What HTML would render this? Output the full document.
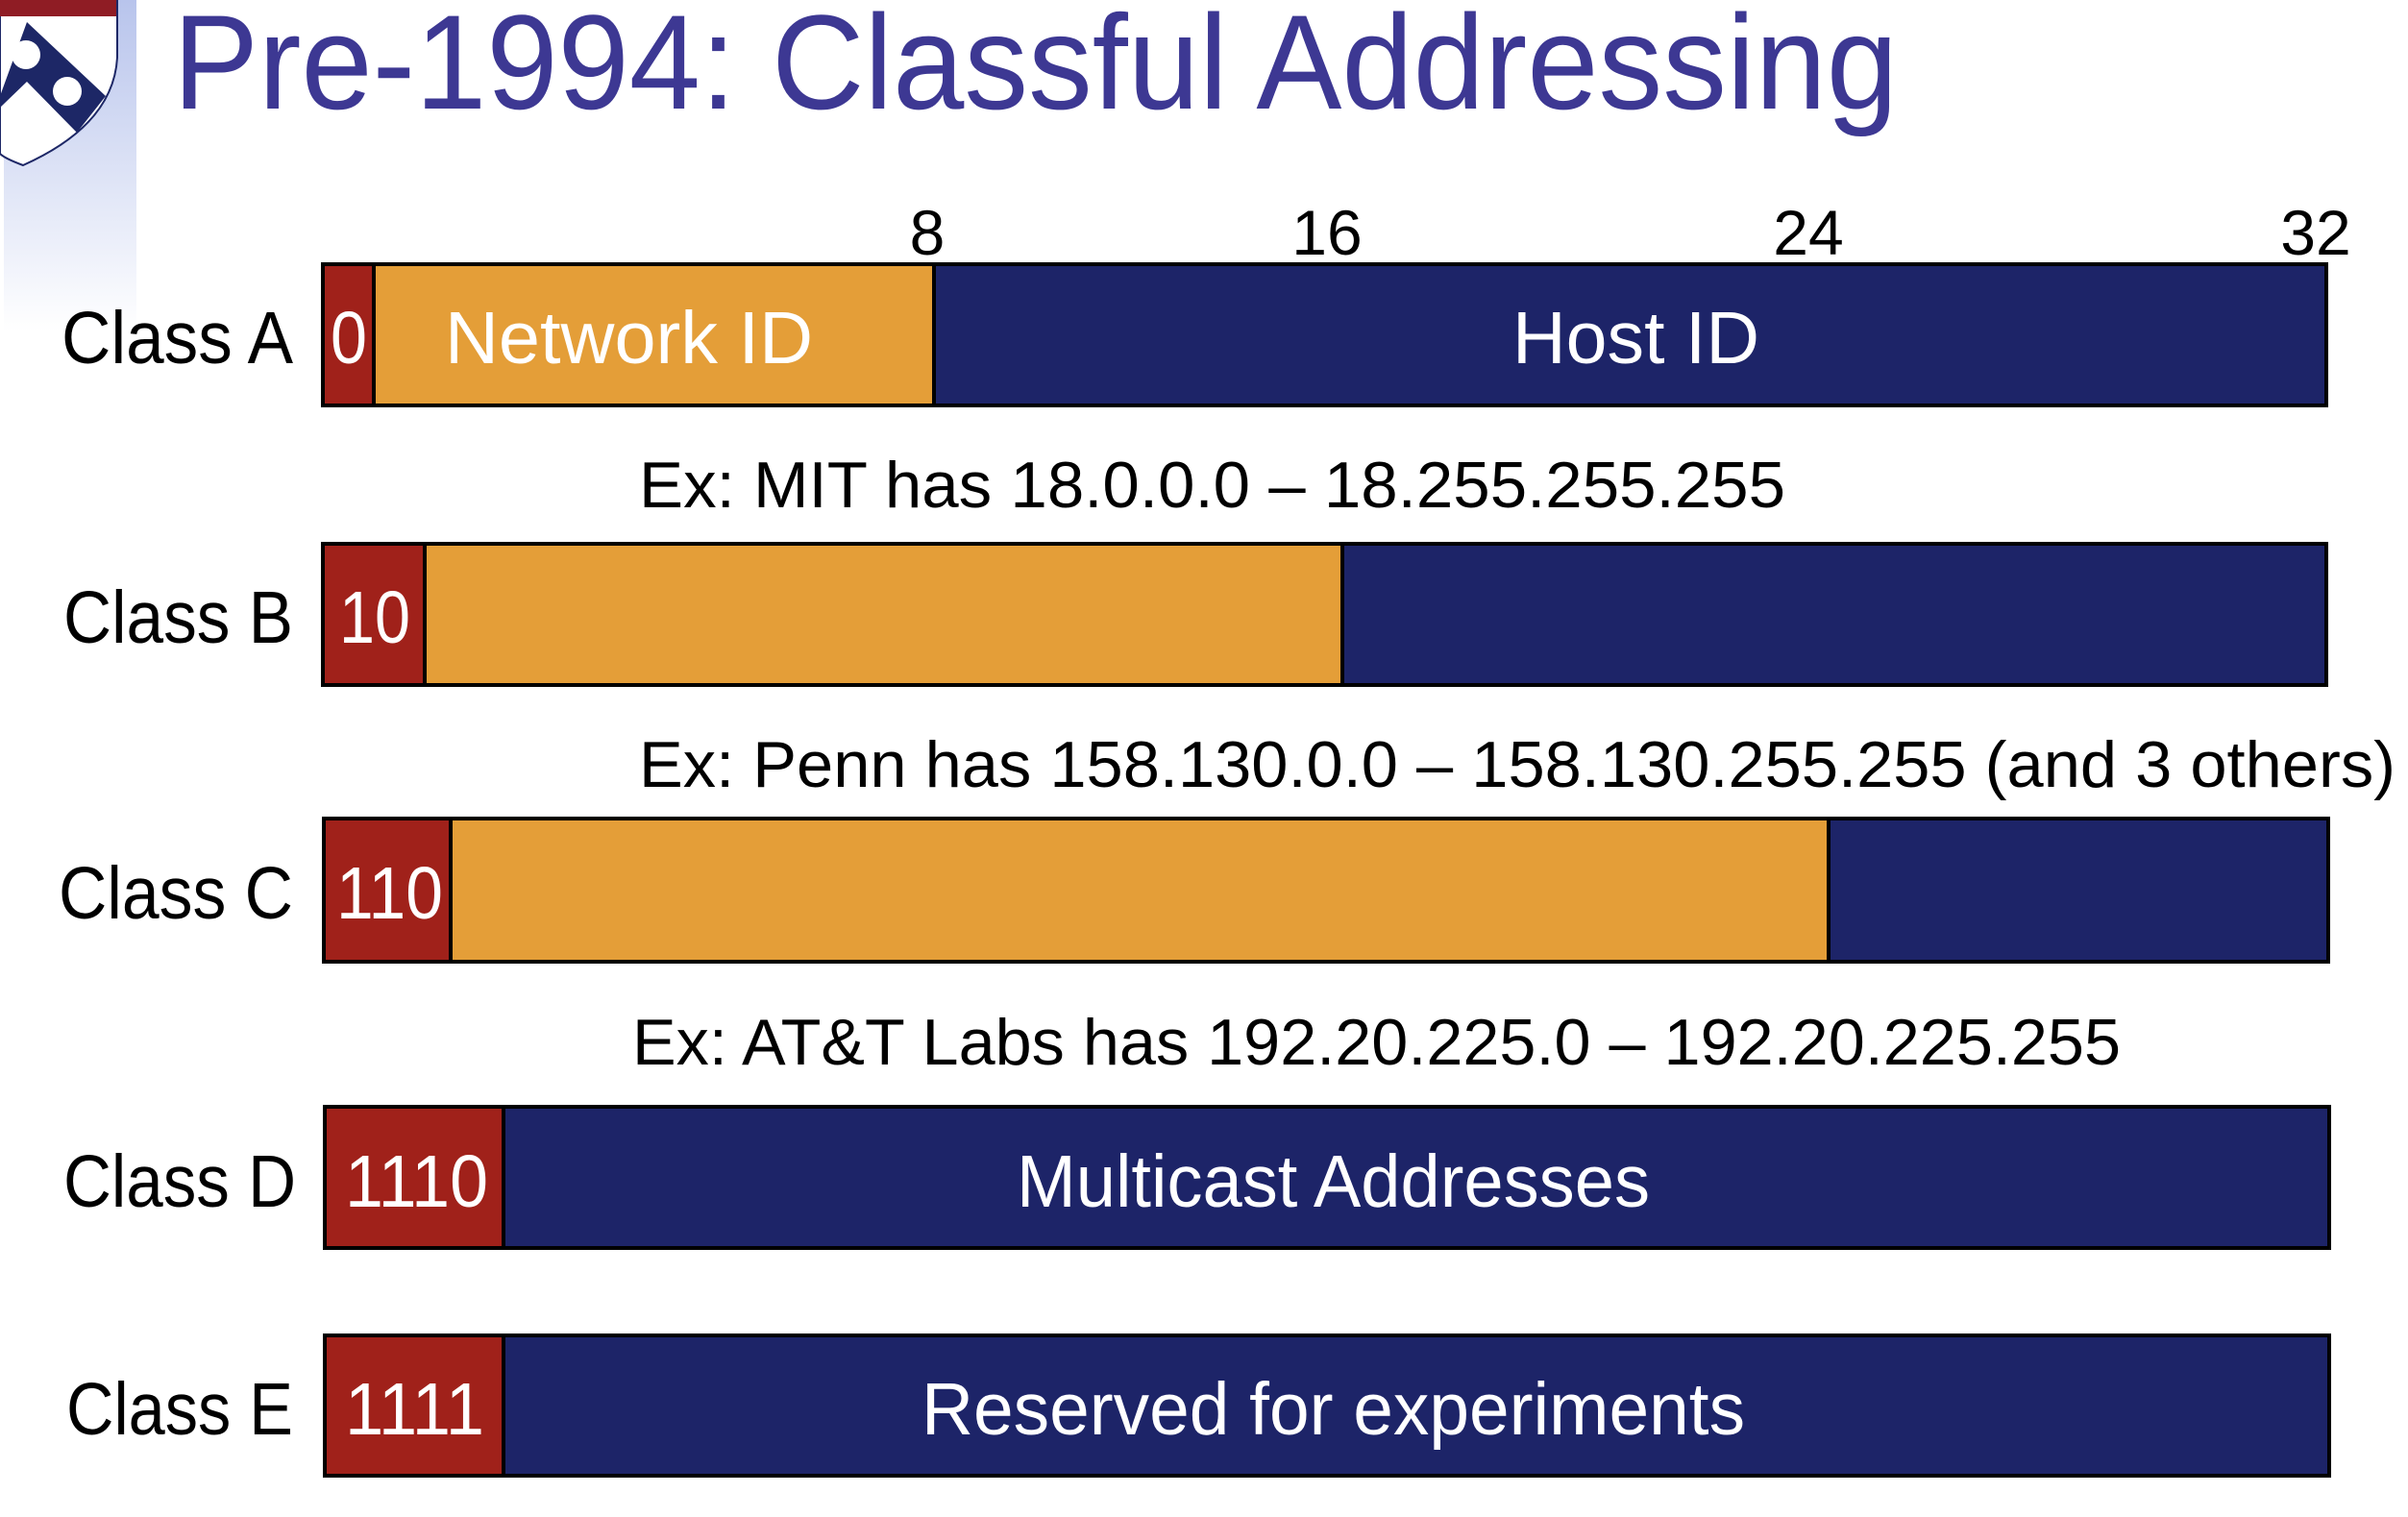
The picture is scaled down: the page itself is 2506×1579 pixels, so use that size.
<!DOCTYPE html>
<html><head><meta charset="utf-8"><style>
html,body{margin:0;padding:0;background:#fff;}
svg{display:block;}
text{font-family:"Liberation Sans",sans-serif;}
</style></head><body>
<svg width="2506" height="1579" viewBox="0 0 2506 1579" xmlns="http://www.w3.org/2000/svg">
<defs>
<linearGradient id="g" x1="0" y1="0" x2="0" y2="1">
<stop offset="0" stop-color="#b8c4ec"/><stop offset="1" stop-color="#ffffff"/>
</linearGradient>
</defs>
<rect x="4" y="0" width="138" height="345" fill="url(#g)"/>
<!-- shield -->
<path d="M0 0 H122 V60 Q118 130 24 172 Q5 165 0 160 Z" fill="#fff" stroke="#1d2766" stroke-width="2"/>
<rect x="0" y="0" width="121" height="17" fill="#8f1c24"/>
<path d="M0 100 L28 23 L110 100 L80 138 L28 85 L0 112 Z" fill="#1d2766"/>
<circle cx="27" cy="57" r="15" fill="#fff"/>
<circle cx="70" cy="95" r="15" fill="#fff"/>
<text x="180" y="113" font-size="140" fill="#3d3893" textLength="1795" lengthAdjust="spacingAndGlyphs">Pre-1994: Classful Addressing</text>

<g font-size="66" fill="#000" text-anchor="middle">
<text x="965" y="265">8</text>
<text x="1381" y="265">16</text>
<text x="1882" y="265">24</text>
<text x="2410" y="265">32</text>
</g>

<g stroke="#000" stroke-width="4">
<rect x="336" y="275" width="53" height="147" fill="#a0211a"/>
<rect x="389" y="275" width="583" height="147" fill="#e49e38"/>
<rect x="972" y="275" width="1460" height="147" fill="#1d2468" transform="translate(0,0)" style="width:1449px"/>
<rect x="336" y="566" width="106" height="147" fill="#a0211a"/>
<rect x="442" y="566" width="955" height="147" fill="#e49e38"/>
<rect x="1397" y="566" width="1024" height="147" fill="#1d2468"/>
<rect x="337" y="852" width="132" height="149" fill="#a0211a"/>
<rect x="469" y="852" width="1434" height="149" fill="#e49e38"/>
<rect x="1903" y="852" width="520" height="149" fill="#1d2468"/>
<rect x="338" y="1152" width="186" height="147" fill="#a0211a"/>
<rect x="524" y="1152" width="1900" height="147" fill="#1d2468"/>
<rect x="338" y="1390" width="186" height="146" fill="#a0211a"/>
<rect x="524" y="1390" width="1900" height="146" fill="#1d2468"/>
</g>

<g font-size="77" fill="#000">
<text x="64" y="378" textLength="241" lengthAdjust="spacingAndGlyphs">Class A</text>
<text x="66" y="669" textLength="239" lengthAdjust="spacingAndGlyphs">Class B</text>
<text x="61" y="956" textLength="244" lengthAdjust="spacingAndGlyphs">Class C</text>
<text x="66" y="1256" textLength="242" lengthAdjust="spacingAndGlyphs">Class D</text>
<text x="69" y="1493" textLength="236" lengthAdjust="spacingAndGlyphs">Class E</text>
</g>

<g font-size="77" fill="#fff">
<text x="344" y="378" textLength="38" lengthAdjust="spacingAndGlyphs">0</text>
<text x="463" y="378" textLength="383" lengthAdjust="spacingAndGlyphs">Network ID</text>
<text x="1574" y="378" textLength="257" lengthAdjust="spacingAndGlyphs">Host ID</text>
<text x="353" y="669" textLength="74" lengthAdjust="spacingAndGlyphs">10</text>
<text x="350" y="956" textLength="111" lengthAdjust="spacingAndGlyphs">110</text>
<text x="359" y="1256" textLength="149" lengthAdjust="spacingAndGlyphs">1110</text>
<text x="1058" y="1256" textLength="659" lengthAdjust="spacingAndGlyphs">Multicast Addresses</text>
<text x="359" y="1493" textLength="145" lengthAdjust="spacingAndGlyphs">1111</text>
<text x="959" y="1493" textLength="857" lengthAdjust="spacingAndGlyphs">Reserved for experiments</text>
</g>

<g font-size="68" fill="#000">
<text x="665" y="528" textLength="1193" lengthAdjust="spacingAndGlyphs">Ex: MIT has 18.0.0.0 – 18.255.255.255</text>
<text x="665" y="819" textLength="1828" lengthAdjust="spacingAndGlyphs">Ex: Penn has 158.130.0.0 – 158.130.255.255 (and 3 others)</text>
<text x="658" y="1108" textLength="1549" lengthAdjust="spacingAndGlyphs">Ex: AT&amp;T Labs has 192.20.225.0 – 192.20.225.255</text>
</g>
</svg>
</body></html>
